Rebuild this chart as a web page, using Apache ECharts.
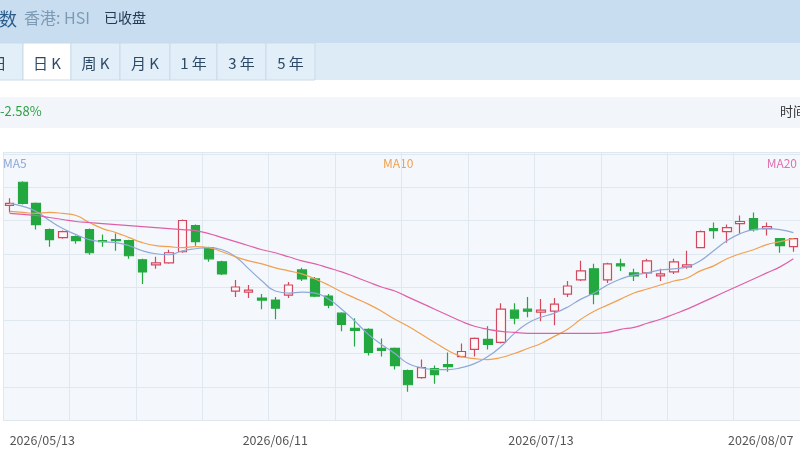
<!DOCTYPE html>
<html><head><meta charset="utf-8">
<script src="https://cdn.jsdelivr.net/npm/echarts@6/dist/echarts.min.js"></script>
<style>html,body{margin:0;padding:0;background:#fff}#c{width:800px;height:450px}</style>
</head><body><div id="c"></div>
<script>
const dates = ['2026/05/13','2026/05/14','2026/05/15','2026/05/18','2026/05/19','2026/05/20','2026/05/21','2026/05/22','2026/05/26','2026/05/27','2026/05/28','2026/05/29','2026/06/01','2026/06/02','2026/06/03','2026/06/04','2026/06/05','2026/06/08','2026/06/09','2026/06/10','2026/06/11','2026/06/12','2026/06/15','2026/06/16','2026/06/17','2026/06/18','2026/06/22','2026/06/23','2026/06/24','2026/06/25','2026/06/26','2026/06/29','2026/06/30','2026/07/02','2026/07/03','2026/07/06','2026/07/07','2026/07/08','2026/07/09','2026/07/10','2026/07/13','2026/07/14','2026/07/15','2026/07/16','2026/07/17','2026/07/20','2026/07/21','2026/07/22','2026/07/23','2026/07/24','2026/07/27','2026/07/28','2026/07/29','2026/07/30','2026/07/31','2026/08/03','2026/08/04','2026/08/05','2026/08/06','2026/08/07'];
// [open, close, low, high]
const candles = [[2523,2525,2516,2530],[2546,2525,2524,2547],[2525,2504,2499,2526],[2499,2489,2482,2500],[2491,2497,2490,2498],[2492,2488,2485,2493],[2499,2476,2474,2500],[2488,2487,2482,2494],[2489,2488,2478,2495],[2488,2473,2470,2489],[2469,2457,2445,2470],[2464,2466,2460,2472],[2466,2476,2465,2479],[2477,2508,2476,2509],[2503,2487,2483,2504],[2481,2470,2467,2482],[2467,2455,2454,2468],[2438,2442,2432,2449],[2437,2439,2431,2444],[2431,2429,2420,2435],[2429,2421,2410,2432],[2434,2444,2431,2447],[2459,2450,2448,2461],[2450,2433,2432,2452],[2433,2424,2421,2435],[2416,2405,2398,2417],[2401,2399,2383,2411],[2400,2377,2374,2401],[2381,2379,2373,2391],[2381,2364,2360,2382],[2359,2345,2338,2360],[2352,2362,2351,2370],[2361,2355,2346,2364],[2365,2363,2358,2377],[2373,2378,2372,2386],[2380,2391,2373,2392],[2390,2385,2380,2403],[2387,2420,2386,2426],[2419,2411,2405,2426],[2420,2418,2412,2432],[2417,2419,2408,2430],[2418,2425,2404,2431],[2435,2443,2432,2448],[2449,2458,2448,2468],[2460,2435,2425,2465],[2449,2465,2446,2466],[2465,2463,2458,2470],[2456,2453,2448,2460],[2456,2468,2451,2470],[2453,2455,2448,2460],[2457,2467,2455,2470],[2462,2464,2460,2478],[2481,2497,2481,2498],[2500,2498,2490,2506],[2497,2501,2486,2504],[2505,2507,2495,2513],[2510,2499,2497,2516],[2500,2502,2493,2506],[2490,2483,2476,2490],[2482,2490,2477,2490]];
const ma5 = [2525,2522,2517,2508,2500,2494,2489,2487,2486,2483,2478,2475,2474,2478,2480,2481,2479,2472,2460,2448,2438,2436,2437,2436,2430,2420,2408,2395,2385,2376,2366,2362,2360,2360,2362,2366,2373,2383,2396,2406,2412,2416,2422,2430,2436,2444,2450,2454,2456,2459,2460,2462,2468,2478,2488,2495,2499,2500,2499,2496];
const ma10 = [2517,2516,2515,2516,2515,2513,2506,2500,2496,2491,2486,2483,2482,2481,2482,2481,2477,2472,2468,2465,2461,2458,2455,2450,2444,2437,2431,2425,2418,2410,2403,2395,2387,2379,2373,2371,2370,2372,2376,2381,2386,2393,2400,2410,2418,2424,2430,2436,2440,2444,2448,2451,2458,2463,2470,2475,2479,2484,2487,2490];
const ma20 = [2515,2514,2513,2511,2509,2507,2506,2505,2504,2503,2502,2501,2500,2499,2498,2495,2491,2487,2483,2479,2476,2472,2468,2465,2461,2457,2452,2447,2442,2438,2432,2426,2420,2414,2408,2403,2400,2398,2397,2396,2396,2396,2396,2396,2396,2397,2400,2402,2406,2410,2415,2420,2426,2432,2438,2444,2450,2456,2462,2470];
const shownDates = [0,20,40,59];
const tabs = ['日','日 K','周 K','月 K','1 年','3 年','5 年'];

const chart = echarts.init(document.getElementById('c'));
const F = '"Noto Sans CJK SC","Noto Sans",sans-serif';
const g = [
  {type:'rect',shape:{x:0,y:0,width:800,height:43},style:{fill:'#c8def0'}},
  {type:'text',x:-1,y:10,style:{text:'数',font:'18px '+F,fill:'#2a5d8c'}},
  {type:'text',x:24,y:10,style:{text:'香港: HSI',font:'16px '+F,fill:'#7e9bb5'}},
  {type:'text',x:104,y:11,style:{text:'已收盘',font:'14px '+F,fill:'#233a52'}},
  {type:'rect',shape:{x:0,y:43,width:800,height:37},style:{fill:'#dcebf6'}},
  {type:'rect',shape:{x:0,y:97,width:800,height:31},style:{fill:'#f2f6fa'}},
  {type:'text',x:0,y:105,style:{text:'-2.58%',font:'13px '+F,fill:'#2ea043'}},
  {type:'text',x:780,y:105,style:{text:'时间',font:'13px '+F,fill:'#333'}}
];
const tabX = [-25,23,71,120,170,217,266];
tabs.forEach((t,i)=>{
  const x = tabX[i], w = (tabX[i+1]||315) - x;
  g.push({type:'rect',shape:{x:x,y:43,width:w,height:37},style:{fill:i===1?'#ffffff':'#e3eff8',stroke:'#c9dbe9',lineWidth:1}});
  g.push({type:'text',x:x+w/2,y:63,style:{text:t,font:'15px '+F,fill:'#2c4a66',align:'center',verticalAlign:'middle'}});
});
g.push({type:'text',x:3,y:157,style:{text:'MA5',font:'12px '+F,fill:'#8ea8d8'}});
g.push({type:'text',x:383,y:157,style:{text:'MA10',font:'12px '+F,fill:'#f0a050'}});
g.push({type:'text',x:797,y:157,style:{text:'MA20',font:'12px '+F,fill:'#e070b0',align:'right'}});

chart.setOption({
  animation:false,
  backgroundColor:'#fff',
  graphic:g,
  grid:{left:3,right:0,top:152,bottom:30,backgroundColor:'#f4f8fc',show:true,borderWidth:0},
  xAxis:{type:'category',data:dates,boundaryGap:true,
    axisLine:{show:false},axisTick:{show:false},
    splitLine:{show:true,interval:(i)=>i%5===0,lineStyle:{color:'#dfe7ef'}},
    axisLabel:{interval:(i)=>shownDates.includes(i),color:'#555',fontSize:12.5,fontFamily:F,margin:14,alignMinLabel:'left',alignMaxLabel:'right'}},
  yAxis:{type:'value',min:2310,max:2576,interval:33,axisLabel:{show:false},axisLine:{show:false},axisTick:{show:false},
    splitLine:{lineStyle:{color:'#dfe7ef'}}},
  series:[
    {type:'candlestick',data:candles,barWidth:9,
      itemStyle:{color:'#fff7f8',color0:'#22a83f',borderColor:'#d2485e',borderColor0:'#22a83f',borderWidth:1.2}},
    {type:'line',data:ma5,smooth:true,symbol:'none',lineStyle:{color:'#8ea8d8',width:1.2}},
    {type:'line',data:ma10,smooth:true,symbol:'none',lineStyle:{color:'#f0a050',width:1.2}},
    {type:'line',data:ma20,smooth:true,symbol:'none',lineStyle:{color:'#e060a8',width:1.2}}
  ]
});
</script></body></html>
